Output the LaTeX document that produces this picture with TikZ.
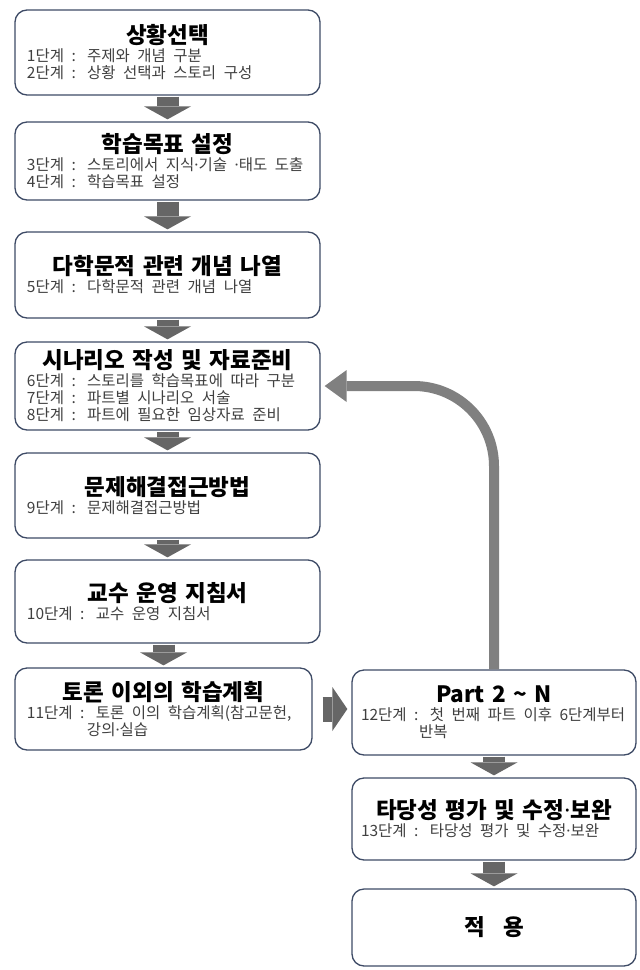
\documentclass[tikz,border=0pt]{standalone}
\usepackage{fontspec}
\setmainfont{Noto Sans CJK KR}
\newfontfamily\latinfont{Noto Sans}
\usetikzlibrary{arrows.meta, positioning}
\definecolor{frame}{HTML}{3E4B66}
\definecolor{flowgray}{HTML}{666666}
\definecolor{loopgray}{HTML}{808080}
\newcommand{\mdot}{{\latinfont ·}}
\newcommand{\steplines}[1]{\parbox[t]{\linewidth}{\raggedright\fontsize{15.5}{17}\selectfont\mdseries\leavevmode\color{black!75}#1}}

\begin{document}
\begin{tikzpicture}[
    x=1pt, y=1pt,
    stage/.style={rectangle, draw=frame, line width=1.3pt, rounded corners=12pt, inner xsep=12pt, text width=281pt, align=center, fill=white, font=\fontsize{22.5}{18}\selectfont\bfseries},
    rightstage/.style={stage, inner xsep=9pt, text width=266pt},
    flow/.style={line width=22pt, draw=flowgray, -{Triangle[width=47pt, length=13pt, line width=0pt]}, shorten <=1pt, shorten >=2pt},
    loopback/.style={line width=10pt, draw=loopgray, rounded corners=80pt, -{Triangle[width=32pt, length=22pt, line width=0pt]}, shorten >=4pt}
]
    \useasboundingbox (0,0) rectangle (640,-970);

    % Left column
    \node[stage, minimum height=85pt] (b1) at (167.5,-52.5) {상황선택\\
        \steplines{1단계 : 주제와 개념 구분\\2단계 : 상황 선택과 스토리 구성}};
    \node[stage, minimum height=78pt] (b2) at (167.5,-161) {학습목표 설정\\
        \steplines{3단계 : 스토리에서 지식\mdot 기술 \mdot 태도 도출\\4단계 : 학습목표 설정}};
    \node[stage, minimum height=86pt] (b3) at (167.5,-275) {다학문적 관련 개념 나열\\
        \steplines{5단계 : 다학문적 관련 개념 나열}};
    \node[stage, minimum height=88pt] (b4) at (167.5,-386) {시나리오 작성 및 자료준비\\
        \steplines{6단계 : 스토리를 학습목표에 따라 구분\\7단계 : 파트별 시나리오 서술\\8단계 : 파트에 필요한 임상자료 준비}};
    \node[stage, minimum height=85pt] (b5) at (167.5,-495.5) {문제해결접근방법\\
        \steplines{9단계 : 문제해결접근방법}};
    \node[stage, minimum height=83pt] (b6) at (167.5,-601.5) {교수 운영 지침서\\
        \steplines{10단계 : 교수 운영 지침서}};
    \node[stage, minimum height=82pt, text width=273pt] (b7) at (163.5,-709) {토론 이외의 학습계획\\
        \steplines{11단계 : 토론 이의 학습계획(참고문헌,\\\hspace*{60pt}강의\mdot 실습}};

    % Right column
    \node[rightstage, minimum height=85pt] (b8) at (494,-712.5) {Part 2 \textasciitilde{} N\\
        \steplines{12단계 : 첫 번째 파트 이후 6단계부터\\\hspace*{58pt}반복}};
    \node[rightstage, minimum height=82pt] (b9) at (494,-819) {타당성 평가 및 수정\mdot 보완\\
        \steplines{13단계 : 타당성 평가 및 수정\mdot 보완}};
    \node[rightstage, minimum height=77pt] (b10) at (494,-927.5) {적\hspace{18pt}용};

    % Flow
    \foreach \a/\b in {b1/b2, b2/b3, b3/b4, b4/b5, b5/b6, b8/b9, b9/b10}
        \draw[flow] (\a) -- (\b);
    \draw[flow] (b7.north |- b6.south) -- (b7.north);
    \draw[flow, line width=25pt, -{Triangle[width=44pt, length=15pt, line width=0pt]}, shorten <=10pt, shorten >=4pt]
        (b7.east) -- (b7.east -| b8.west);

    % Repeat from step 6
    \draw[loopback] (b8.north) -- (b8.north |- b4.east) -- (b4.east);
\end{tikzpicture}
\end{document}
